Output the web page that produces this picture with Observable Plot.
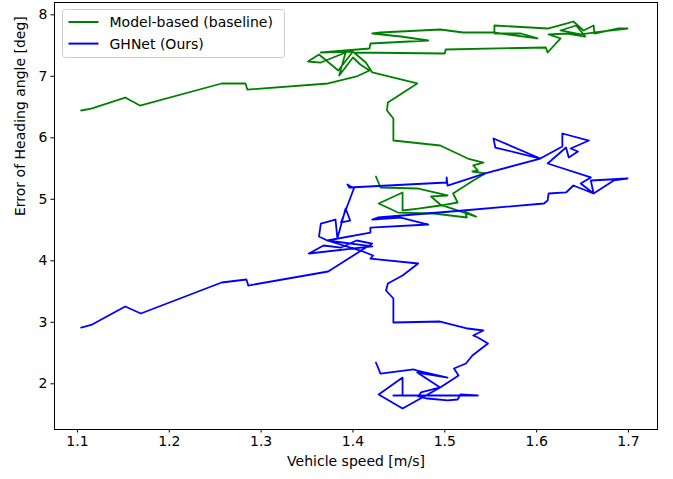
<!DOCTYPE html>
<html>
<head>
<meta charset="utf-8">
<script src="https://cdn.jsdelivr.net/npm/d3@7"></script>
<script src="https://cdn.jsdelivr.net/npm/@observablehq/plot@0.6"></script>
<style>
  html, body { margin: 0; padding: 0; background: white; }
</style>
</head>
<body>
<div id="chart"></div>
<script>
// ---- data (trajectory order) ----
const seriesNames = ["Model-based (baseline)", "GHNet (Ours)"];
const seriesColors = ["green", "blue"];

const speedModel = [1.104,1.115,1.152,1.168,1.257,1.283,1.285,1.373,1.404,1.418,1.408,1.400,1.385,1.392,1.365,1.351,1.363,1.384,1.400,1.365,1.418,1.419,1.482,1.452,1.421,1.430,1.495,1.520,1.553,1.601,1.583,1.554,1.554,1.612,1.633,1.640,1.651,1.662,1.663,1.688,1.699,1.670,1.648,1.626,1.643,1.653,1.633,1.613,1.626,1.612,1.610,1.501,1.500,1.401,1.414,1.421,1.470,1.438,1.437,1.444,1.444,1.495,1.525,1.542,1.531,1.536,1.530,1.544,1.531,1.509,1.514,1.495,1.471,1.454,1.454,1.428,1.449,1.488,1.524,1.522,1.534,1.495,1.485,1.503,1.470,1.430,1.425];
const errModel = [6.444,6.476,6.655,6.525,6.883,6.883,6.785,6.883,6.997,7.094,7.192,7.306,7.013,7.387,7.224,7.241,7.354,7.094,7.403,7.387,7.452,7.533,7.582,7.647,7.696,7.712,7.761,7.712,7.712,7.615,7.696,7.696,7.826,7.777,7.859,7.891,7.745,7.826,7.696,7.777,7.777,7.728,7.680,7.745,7.826,7.647,7.696,7.680,7.615,7.387,7.468,7.436,7.371,7.387,7.224,7.062,6.883,6.574,6.444,6.314,5.956,5.875,5.663,5.598,5.550,5.468,5.452,5.420,5.306,5.094,4.948,4.899,4.850,4.818,5.111,4.932,4.785,4.769,4.704,4.802,4.720,4.915,5.046,5.062,5.176,5.192,5.371];

const speedGHNet = [1.104,1.116,1.152,1.169,1.257,1.284,1.286,1.373,1.397,1.421,1.404,1.387,1.368,1.352,1.421,1.372,1.363,1.365,1.381,1.383,1.392,1.397,1.387,1.401,1.394,1.396,1.502,1.502,1.503,1.544,1.604,1.553,1.555,1.604,1.628,1.628,1.657,1.637,1.645,1.635,1.632,1.612,1.659,1.648,1.662,1.659,1.699,1.684,1.662,1.640,1.632,1.613,1.612,1.608,1.520,1.427,1.421,1.452,1.482,1.419,1.419,1.372,1.408,1.422,1.419,1.471,1.454,1.438,1.436,1.444,1.444,1.495,1.525,1.542,1.531,1.536,1.547,1.530,1.523,1.510,1.515,1.495,1.474,1.471,1.481,1.503,1.514,1.517,1.536,1.444,1.454,1.454,1.428,1.454,1.495,1.470,1.503,1.470,1.466,1.430,1.425];
const errGHNet = [2.915,2.964,3.257,3.143,3.647,3.696,3.598,3.826,4.054,4.281,4.330,4.216,4.249,4.119,4.233,4.330,4.395,4.606,4.671,4.363,4.850,4.655,4.623,5.176,5.241,5.192,5.273,5.355,5.224,5.420,5.663,5.989,5.842,5.663,5.859,6.070,5.956,5.826,5.777,5.680,5.842,5.582,5.355,5.257,5.094,5.306,5.338,5.306,5.094,5.224,5.111,5.094,4.981,4.932,4.818,4.704,4.671,4.704,4.590,4.541,4.460,4.330,4.167,4.086,4.037,3.956,3.761,3.631,3.517,3.387,2.997,3.013,2.899,2.867,2.785,2.753,2.655,2.460,2.330,2.249,2.135,1.940,1.859,1.794,1.761,1.729,1.745,1.826,1.810,1.810,1.810,2.102,1.826,1.599,1.940,2.184,2.102,2.216,2.233,2.167,2.346];

const xTicks = [1.1, 1.2, 1.3, 1.4, 1.5, 1.6, 1.7];
const yTicks = [2, 3, 4, 5, 6, 7, 8];
const xLabel = "Vehicle speed [m/s]";
const yLabel = "Error of Heading angle [deg]";

// ---- build tables ----
const modelData = speedModel.map((s, i) => ({speed: s, err: errModel[i]}));
const ghnetData = speedGHNet.map((s, i) => ({speed: s, err: errGHNet[i]}));

const FONT = "DejaVu Sans";

function legendMark(index, scales, values, dimensions) {
  const g = d3.create("svg:g");
  const x0 = dimensions.marginLeft + 8.5;
  const y0 = dimensions.marginTop + 7.5;
  g.append("rect")
    .attr("x", x0).attr("y", y0)
    .attr("width", 222).attr("height", 48)
    .attr("rx", 3)
    .attr("fill", "white").attr("fill-opacity", 0.8)
    .attr("stroke", "#cccccc").attr("stroke-width", 1);
  seriesNames.forEach((name, i) => {
    const cy = y0 + 12.5 + i * 21.6;
    g.append("line")
      .attr("x1", x0 + 6).attr("x2", x0 + 36)
      .attr("y1", cy).attr("y2", cy)
      .attr("stroke", seriesColors[i]).attr("stroke-width", 2);
    g.append("text")
      .attr("x", x0 + 47).attr("y", cy).attr("dy", "0.35em")
      .attr("text-anchor", "start")
      .attr("fill", "black")
      .attr("font-family", FONT).attr("font-size", 14)
      .text(name);
  });
  return g.node();
}

const chart = Plot.plot({
  width: 673,
  height: 479,
  marginLeft: 54,
  marginRight: 16,
  marginTop: 2,
  marginBottom: 50,
  style: {fontFamily: FONT, fontSize: "14px", color: "black", background: "white"},
  x: {domain: [1.075, 1.7316]},
  y: {domain: [1.257, 8.2]},
  marks: [
    Plot.line(modelData, {x: "speed", y: "err", stroke: seriesColors[0], strokeWidth: 1.8}),
    Plot.line(ghnetData, {x: "speed", y: "err", stroke: seriesColors[1], strokeWidth: 1.8}),
    Plot.frame({stroke: "black", strokeWidth: 1}),
    Plot.axisX({ticks: xTicks, tickFormat: d => d.toFixed(1), tickSize: 3.5, tickPadding: 3.5, label: null, fontSize: 14}),
    Plot.axisY({ticks: yTicks, tickFormat: d => String(d), tickSize: 3.5, tickPadding: 3.5, label: null, fontSize: 14}),
    Plot.text([xLabel], {text: d => d, frameAnchor: "bottom", dy: 36, fontSize: 14, fill: "black"}),
    Plot.text([yLabel], {text: d => d, frameAnchor: "left", rotate: -90, dx: -34, fontSize: 14, fill: "black"}),
    legendMark
  ]
});

document.getElementById("chart").appendChild(chart);
</script>
</body>
</html>
